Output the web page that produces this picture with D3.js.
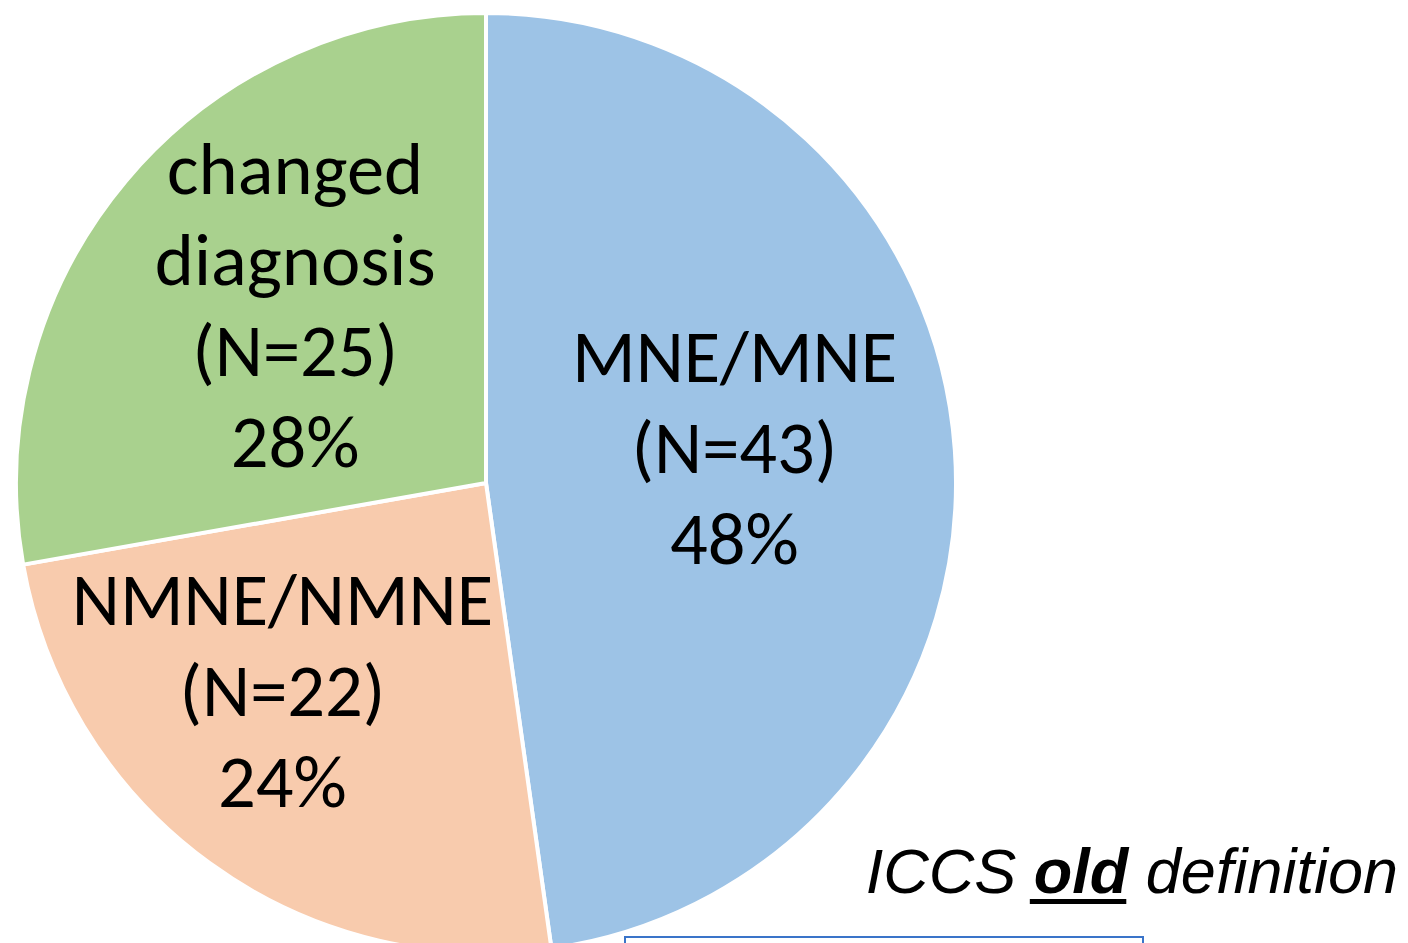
<!DOCTYPE html>
<html>
<head>
<meta charset="utf-8">
<script src="https://cdn.jsdelivr.net/npm/d3@7"></script>
<style>
  html, body { margin: 0; padding: 0; background: #fff; }
  svg { display: block; }
</style>
</head>
<body>
<div id="chart"></div>
<script>
// slice data, clockwise from 12 o'clock
const categories = ["MNE/MNE", "NMNE/NMNE", "changed diagnosis"];
const counts = [43, 22, 25];
const percents = ["48%", "24%", "28%"];
const colors = ["#9DC3E6", "#F8CBAD", "#A9D18E"];

const width = 1408, height = 943;
const cx = 486, cy = 483, R = 470;

const svg = d3.select("#chart").append("svg")
  .attr("width", width)
  .attr("height", height);

// box peeking in at the bottom
svg.append("rect")
  .attr("x", 625).attr("y", 937)
  .attr("width", 518).attr("height", 40)
  .attr("fill", "#fff")
  .attr("stroke", "#3A74C9")
  .attr("stroke-width", 2);

const data = categories.map((c, i) => ({ name: c, n: counts[i], pct: percents[i], color: colors[i] }));

const pie = d3.pie().sort(null).value(d => d.n);
const arcs = pie(data);

const arc = d3.arc().innerRadius(0).outerRadius(R);

const g = svg.append("g").attr("transform", `translate(${cx},${cy})`);

g.selectAll("path")
  .data(arcs)
  .join("path")
  .attr("d", arc)
  .attr("fill", d => d.data.color)
  .attr("stroke", "#fff")
  .attr("stroke-width", 4)
  .attr("stroke-linejoin", "round");

// labels (Excel best-fit pushes the small slice's label further out)
const labelR = d => d.data.name === "NMNE/NMNE" ? R * 0.65 : R * 0.53;
const nudge = d => d.data.name === "NMNE/NMNE" ? [-24, -22] : [0, 0];
const lineH = 91;
const fontSize = 74.5;

arcs.forEach(d => {
  const mid = (d.startAngle + d.endAngle) / 2;
  const r = labelR(d);
  const [nx, ny] = nudge(d);
  const lx = Math.sin(mid) * r + nx;
  const ly = -Math.cos(mid) * r + ny;
  const lines = d.data.name === "changed diagnosis"
    ? ["changed", "diagnosis", `(N=${d.data.n})`, d.data.pct]
    : [d.data.name, `(N=${d.data.n})`, d.data.pct];
  const t = g.append("text")
    .attr("text-anchor", "middle")
    .attr("font-family", "Carlito, Lato, 'Open Sans', sans-serif")
    .attr("font-size", fontSize)
    .attr("fill", "#000");
  const y0 = ly - (lines.length - 1) * lineH / 2 + fontSize * 0.1;
  lines.forEach((s, i) => {
    t.append("tspan").attr("x", lx).attr("y", y0 + i * lineH).text(s);
  });
});

// caption
const cap = svg.append("text")
  .attr("x", 1398).attr("y", 893)
  .attr("text-anchor", "end")
  .attr("font-family", "'Liberation Sans', Arial, sans-serif")
  .attr("font-style", "italic")
  .attr("font-size", 63)
  .attr("fill", "#000");
cap.append("tspan").text("ICCS ");
cap.append("tspan").attr("font-weight", "bold").text("old");
cap.append("tspan").text(" definition");

const node = cap.node();
const s0 = node.getStartPositionOfChar(5).x;
const e0 = node.getEndPositionOfChar(7).x;
svg.append("rect")
  .attr("x", s0 - 4).attr("y", 899)
  .attr("width", e0 - s0 + 2).attr("height", 5)
  .attr("fill", "#000");
</script>
</body>
</html>
